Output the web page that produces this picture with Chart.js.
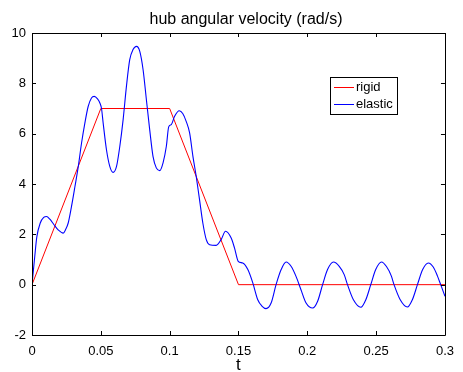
<!DOCTYPE html>
<html>
<head>
<meta charset="utf-8">
<script src="https://cdn.jsdelivr.net/npm/chart.js@4.4.1/dist/chart.umd.min.js"></script>
<style>
  html, body { margin: 0; padding: 0; background: #fff; }
</style>
</head>
<body>
<canvas id="hub-chart" width="463" height="372"></canvas>
<script>
// rigid-body reference trajectory (trapezoidal velocity profile)
const rigidT = [0, 0.05, 0.1, 0.15, 0.3];
const rigidV = [0, 7, 7, 0, 0];

// elastic model response, sampled along t
const elasticT = [
  0, 0.002, 0.0035, 0.006, 0.0085, 0.0106, 0.013, 0.016, 0.019, 0.0227,
  0.0245, 0.0263, 0.0287, 0.0312, 0.0336, 0.036, 0.0384, 0.0408, 0.0432, 0.0452,
  0.0476, 0.0493, 0.0505, 0.0517, 0.0541, 0.0565, 0.0589, 0.0614, 0.0638, 0.0662,
  0.0686, 0.071, 0.0734, 0.0759, 0.0783, 0.0807, 0.0831, 0.0855, 0.0879, 0.0903,
  0.0928, 0.0952, 0.0976, 0.0993, 0.1012, 0.1036, 0.107, 0.1095, 0.112, 0.1145,
  0.1169, 0.1193, 0.1217, 0.1241, 0.1266, 0.129, 0.1338, 0.1374, 0.1406, 0.1447,
  0.1471, 0.1498, 0.1531, 0.1568, 0.1604, 0.164, 0.167, 0.17, 0.1737, 0.1773,
  0.181, 0.1846, 0.1882, 0.1918, 0.1954, 0.1991, 0.2039, 0.2075, 0.2111, 0.2147,
  0.219, 0.2232, 0.2268, 0.2292, 0.2335, 0.2389, 0.2425, 0.2461, 0.2497, 0.2539,
  0.2575, 0.261, 0.263, 0.2675, 0.2727, 0.2763, 0.28, 0.2838, 0.2879, 0.2915,
  0.2945, 0.2969, 0.3
];
const elasticV = [
  0, 1.12, 1.9, 2.45, 2.67, 2.71, 2.6, 2.38, 2.18, 2.05,
  2.2, 2.45, 3.11, 3.9, 4.69, 5.63, 6.42, 7.08, 7.42, 7.48,
  7.38, 7.22, 7.0, 6.42, 5.36, 4.7, 4.46, 4.7, 5.5, 6.56,
  7.88, 8.94, 9.34, 9.47, 9.27, 8.54, 7.35, 6.16, 5.1, 4.64,
  4.53, 4.84, 5.5, 6.27, 6.36, 6.69, 6.91, 6.8, 6.49, 6.03,
  5.1, 4.3, 3.38, 2.45, 1.79, 1.59, 1.56, 1.79, 2.12, 1.85,
  1.46, 0.93, 0.86, 0.6, 0.07, -0.6, -0.85, -0.95, -0.73, 0,
  0.6, 0.9, 0.73, 0.33, -0.2, -0.73, -0.93, -0.66, 0, 0.6,
  0.9, 0.73, 0.4, 0, -0.6, -0.9, -0.6, 0, 0.6, 0.9,
  0.72, 0.35, 0, -0.6, -0.89, -0.6, 0, 0.6, 0.86, 0.7,
  0.35, 0, -0.46
];

const xTicks = [0, 0.05, 0.1, 0.15, 0.2, 0.25, 0.3];
const yTicks = [-2, 0, 2, 4, 6, 8, 10];

const FONT = "'Liberation Sans', Arial, Helvetica, sans-serif";

const toPoints = (xs, ys) => xs.map((x, i) => ({ x, y: ys[i] }));

// axes box with inward ticks on all four sides, title, axis label and legend
const matlabFrame = {
  id: 'matlabFrame',
  afterDraw(chart) {
    const { ctx, chartArea: a, scales: { x, y } } = chart;
    const tick = 4;
    ctx.save();
    ctx.strokeStyle = '#000';
    ctx.lineWidth = 1;
    ctx.beginPath();
    ctx.rect(Math.round(a.left) + 0.5, Math.round(a.top) + 0.5,
      Math.round(a.right - a.left), Math.round(a.bottom - a.top));
    xTicks.forEach(v => {
      const px = Math.round(x.getPixelForValue(v)) + 0.5;
      ctx.moveTo(px, a.bottom); ctx.lineTo(px, a.bottom - tick);
      ctx.moveTo(px, a.top); ctx.lineTo(px, a.top + tick);
    });
    yTicks.forEach(v => {
      const py = Math.round(y.getPixelForValue(v)) + 0.5;
      ctx.moveTo(a.left, py); ctx.lineTo(a.left + tick, py);
      ctx.moveTo(a.right, py); ctx.lineTo(a.right - tick, py);
    });
    ctx.stroke();

    ctx.fillStyle = '#000';
    ctx.textAlign = 'center';
    ctx.textBaseline = 'alphabetic';
    ctx.font = '16px ' + FONT;
    ctx.fillText('hub angular velocity (rad/s)', 246, 24);
    ctx.font = '17px ' + FONT;
    ctx.fillText('t', (a.left + a.right) / 2, 370);

    // legend
    const lx = 330, ly = 77, lw = 67, lh = 37;
    ctx.fillStyle = '#fff';
    ctx.fillRect(lx, ly, lw, lh);
    ctx.strokeRect(lx + 0.5, ly + 0.5, lw, lh);
    ctx.font = '13px ' + FONT;
    ctx.textAlign = 'left';
    ctx.textBaseline = 'middle';
    chart.data.datasets.forEach((ds, i) => {
      const rowY = ly + 10.5 + i * 17;
      ctx.strokeStyle = ds.borderColor;
      ctx.beginPath();
      ctx.moveTo(lx + 4, rowY);
      ctx.lineTo(lx + 24, rowY);
      ctx.stroke();
      ctx.fillStyle = '#000';
      ctx.fillText(ds.label, lx + 26, rowY);
    });
    ctx.restore();
  }
};

new Chart(document.getElementById('hub-chart'), {
  type: 'line',
  data: {
    datasets: [
      {
        label: 'rigid',
        data: toPoints(rigidT, rigidV),
        borderColor: '#ff0000',
        borderWidth: 1,
        pointRadius: 0,
        tension: 0,
        order: 1,
      },
      {
        label: 'elastic',
        data: toPoints(elasticT, elasticV),
        borderColor: '#0000ff',
        borderWidth: 1.1,
        pointRadius: 0,
        cubicInterpolationMode: 'monotone',
        order: 0,
      },
    ],
  },
  options: {
    responsive: false,
    animation: false,
    layout: { padding: { top: 33, right: 16, left: 0, bottom: 0 } },
    plugins: {
      legend: { display: false },
      tooltip: { enabled: false },
      title: { display: false },
    },
    scales: {
      x: {
        type: 'linear',
        min: 0,
        max: 0.3,
        afterBuildTicks: scale => { scale.ticks = xTicks.map(value => ({ value })); },
        afterFit: scale => { scale.height = 37; },
        grid: { display: false, drawTicks: false },
        border: { display: false },
        ticks: {
          color: '#000',
          padding: 9,
          maxRotation: 0,
          font: { family: FONT, size: 13 },
          callback: v => String(+v.toFixed(2)),
        },
      },
      y: {
        min: -2,
        max: 10,
        afterBuildTicks: scale => { scale.ticks = yTicks.map(value => ({ value })); },
        afterFit: scale => { scale.width = 32; },
        grid: { display: false, drawTicks: false },
        border: { display: false },
        ticks: {
          color: '#000',
          padding: 6,
          font: { family: FONT, size: 13 },
          callback: v => String(v),
        },
      },
    },
  },
  plugins: [matlabFrame],
});
</script>
</body>
</html>
